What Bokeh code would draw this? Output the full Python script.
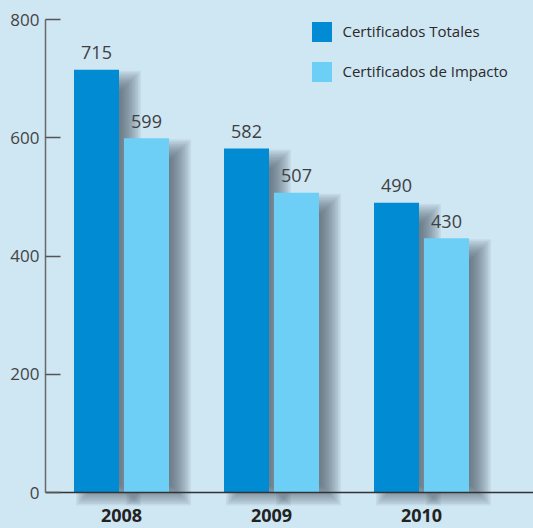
from bokeh.plotting import figure
from bokeh.models import Range1d, FixedTicker, Legend, LegendItem
from bokeh.core.properties import value
from bokeh.embed import file_html
from bokeh.resources import INLINE

# ---- data ----
years = ["2008", "2009", "2010"]
totales = [715, 582, 490]
impacto = [599, 507, 430]
series_names = ["Certificados Totales", "Certificados de Impacto"]
y_ticks = [0, 200, 400, 600, 800]

# ---- layout / style constants ----
W, H = 533, 528
BG = "#cfe6f3"
DARK = "#008bd2"
LIGHT = "#6dcff6"
SHADOW = "#46525d"
FONT = "Open Sans"

PX_X = 150.0            # pixels per year group
frame_left = 45
frame_top = 19
zero_px = 492
ppu = (zero_px - frame_top) / 800.0   # pixels per unit on y
x_start = -76 / PX_X
x_end = x_start + (W - frame_left) / PX_X
y_start = -(H - zero_px) / ppu

p = figure(width=W, height=H, output_backend="svg", toolbar_location=None,
           x_range=Range1d(x_start, x_end), y_range=Range1d(y_start, 800),
           min_border=0, min_border_left=frame_left, min_border_right=0,
           min_border_top=frame_top, min_border_bottom=0,
           background_fill_color=BG, border_fill_color=BG,
           outline_line_color=None)
p.grid.visible = False

idx = list(range(len(years)))
off = 25 / PX_X
bw = 45 / PX_X
xs_dark = [i - off for i in idx]
xs_light = [i + off for i in idx]


def shadow(xs, tops, dx=12, dy_top=11, dy_bot=3, blur=10, n=14, alpha=0.075):
    for k in range(n):
        e = blur - 2 * blur * k / (n - 1)
        left = [x - bw / 2 + (dx - e) / PX_X for x in xs]
        right = [x + bw / 2 + (dx + e) / PX_X for x in xs]
        top = [t - (dy_top - e) / ppu for t in tops]
        bottom = [-(dy_bot + e) / ppu for _ in tops]
        p.quad(left=left, right=right, top=top, bottom=bottom,
               fill_color=SHADOW, fill_alpha=alpha, line_color=None)


shadow(xs_dark, totales)
shadow(xs_light, impacto)

r1 = p.vbar(x=xs_dark, top=totales, width=bw, fill_color=DARK, line_color=None)
r2 = p.vbar(x=xs_light, top=impacto, width=bw, fill_color=LIGHT, line_color=None)

for xs, vals in ((xs_dark, totales), (xs_light, impacto)):
    p.text(x=xs, y=vals, text=[str(v) for v in vals], text_align="center",
           text_baseline="alphabetic", y_offset=-17,
           text_font=value(FONT), text_font_size="18px", text_color="#404040")

# y axis
ya = p.yaxis[0]
ya.ticker = FixedTicker(ticks=y_ticks)
ya.bounds = (0, 800)
ya.major_tick_in = 15
ya.major_tick_out = 0
ya.minor_tick_in = 0
ya.minor_tick_out = 0
ya.axis_line_color = "#6a6a6a"
ya.axis_line_width = 1.5
ya.major_tick_line_color = "#555555"
ya.major_tick_line_width = 1.5
ya.major_label_standoff = 6
ya.major_label_text_font = FONT
ya.major_label_text_font_size = "17px"
ya.major_label_text_color = "#444444"

# x axis
xa = p.xaxis[0]
xa.ticker = FixedTicker(ticks=idx)
xa.major_label_overrides = {i: y for i, y in zip(idx, years)}
xa.fixed_location = 0
xa.major_tick_in = 0
xa.major_tick_out = 0
xa.minor_tick_in = 0
xa.minor_tick_out = 0
xa.axis_line_color = "#333333"
xa.axis_line_width = 1.5
xa.major_label_standoff = 16
xa.major_label_text_font = FONT
xa.major_label_text_font_size = "18px"
xa.major_label_text_font_style = "bold"
xa.major_label_text_color = "#222222"

legend = Legend(items=[LegendItem(label=series_names[0], renderers=[r1]),
                       LegendItem(label=series_names[1], renderers=[r2])],
                location=(263.5, 444.5), glyph_width=25, glyph_height=25,
                spacing=15, padding=0, margin=0, label_standoff=9,
                border_line_color=None, background_fill_alpha=0,
                label_text_font=FONT, label_text_font_size="15px",
                label_text_color="#2a2a2a", label_text_baseline="middle")
p.add_layout(legend)

html = file_html(p, INLINE)
html = html.replace("<head>", "<head><style>html,body{background:#cfe6f3;}</style>", 1)
open("out.html", "w").write(html)
